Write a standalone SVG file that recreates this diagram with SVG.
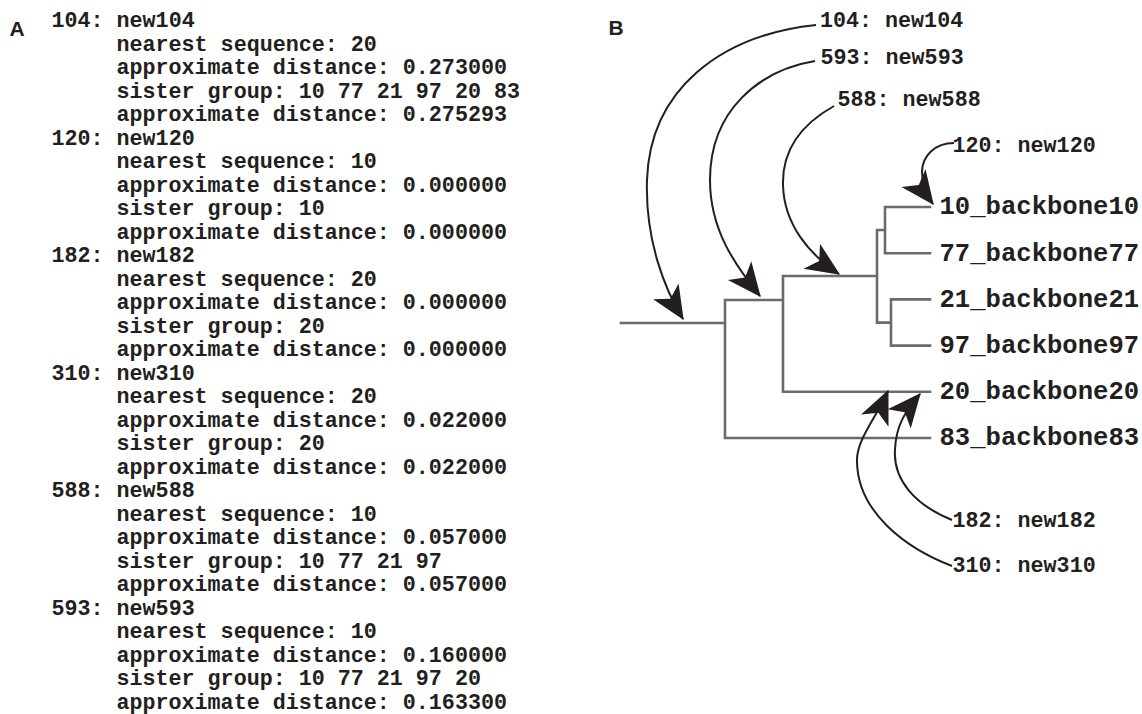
<svg xmlns="http://www.w3.org/2000/svg" width="1142" height="714" viewBox="0 0 1142 714">
<style>
.mono{font-family:"Liberation Mono","Courier New",monospace;font-weight:bold;font-size:21.7px;fill:#231f20}
.leaf{font-family:"Liberation Mono","Courier New",monospace;font-weight:bold;font-size:25.6px;fill:#231f20}
.panel{font-family:"Liberation Sans",Arial,sans-serif;font-weight:bold;font-size:21px;fill:#231f20}
.tree{fill:none;stroke:#6b6b6b;stroke-width:2.6;stroke-linecap:square}
.arr{fill:none;stroke:#231f20;stroke-width:2}
</style>
<defs>
<marker id="ah" markerUnits="userSpaceOnUse" markerWidth="40" markerHeight="40" viewBox="-30 -15 32 30" refX="0" refY="0" orient="auto">
<path d="M1,0 L-26,-12 L-19,0 L-26,12 Z" fill="#231f20"/>
</marker>
</defs>
<rect width="1142" height="714" fill="#ffffff"/>
<text class="panel" x="9.5" y="36">A</text>
<text class="panel" x="608.5" y="35">B</text>
<g id="listing" class="mono">
<g id="entry-104"><text x="51.5" y="27">104: new104</text>
<text x="116.5" y="50.5">nearest sequence: 20</text>
<text x="116.5" y="74">approximate distance: 0.273000</text>
<text x="116.5" y="97.5">sister group: 10 77 21 97 20 83</text>
<text x="116.5" y="121">approximate distance: 0.275293</text></g>
<g id="entry-120"><text x="51.5" y="144.5">120: new120</text>
<text x="116.5" y="168">nearest sequence: 10</text>
<text x="116.5" y="191.5">approximate distance: 0.000000</text>
<text x="116.5" y="215">sister group: 10</text>
<text x="116.5" y="238.5">approximate distance: 0.000000</text></g>
<g id="entry-182"><text x="51.5" y="262">182: new182</text>
<text x="116.5" y="285.5">nearest sequence: 20</text>
<text x="116.5" y="309">approximate distance: 0.000000</text>
<text x="116.5" y="332.5">sister group: 20</text>
<text x="116.5" y="356">approximate distance: 0.000000</text></g>
<g id="entry-310"><text x="51.5" y="379.5">310: new310</text>
<text x="116.5" y="403">nearest sequence: 20</text>
<text x="116.5" y="426.5">approximate distance: 0.022000</text>
<text x="116.5" y="450">sister group: 20</text>
<text x="116.5" y="473.5">approximate distance: 0.022000</text></g>
<g id="entry-588"><text x="51.5" y="497">588: new588</text>
<text x="116.5" y="520.5">nearest sequence: 10</text>
<text x="116.5" y="544">approximate distance: 0.057000</text>
<text x="116.5" y="567.5">sister group: 10 77 21 97</text>
<text x="116.5" y="591">approximate distance: 0.057000</text></g>
<g id="entry-593"><text x="51.5" y="614.5">593: new593</text>
<text x="116.5" y="638">nearest sequence: 10</text>
<text x="116.5" y="661.5">approximate distance: 0.160000</text>
<text x="116.5" y="685">sister group: 10 77 21 97 20</text>
<text x="116.5" y="708.5">approximate distance: 0.163300</text></g>
</g>
<g id="tree">
<path class="tree" d="M621,323 H725 M725,300 V438 M725,300 H783 M725,438 H930 M783,276 V391.8 M783,276 H877 M783,391.8 H930 M877,230 V322.6 M877,230 H885 M877,322.6 H891 M885,207 V253.2 M885,207 H930 M885,253.2 H930 M891,299.4 V345.6 M891,299.4 H930 M891,345.6 H930"/>
</g>
<g id="leaf-10"><text class="leaf" x="939.5" y="214">10_backbone10</text></g>
<g id="leaf-77"><text class="leaf" x="939.5" y="260.5">77_backbone77</text></g>
<g id="leaf-21"><text class="leaf" x="939.5" y="306.5">21_backbone21</text></g>
<g id="leaf-97"><text class="leaf" x="939.5" y="352.8">97_backbone97</text></g>
<g id="leaf-20"><text class="leaf" x="939.5" y="399">20_backbone20</text></g>
<g id="leaf-83"><text class="leaf" x="939.5" y="445.2">83_backbone83</text></g>
<g id="q-104"><text class="mono" x="820" y="27">104: new104</text></g>
<g id="q-593"><text class="mono" x="820.5" y="64.3">593: new593</text></g>
<g id="q-588"><text class="mono" x="837.5" y="105.5">588: new588</text></g>
<g id="q-120"><text class="mono" x="952.5" y="152">120: new120</text></g>
<g id="q-182"><text class="mono" x="952.5" y="526.7">182: new182</text></g>
<g id="q-310"><text class="mono" x="952.5" y="572.3">310: new310</text></g>
<g id="connectors">
<path class="arr" marker-end="url(#ah)" d="M816,25 C720,35 650,90 647,180 C645,240 665,290 683,319"/>
<path class="arr" marker-end="url(#ah)" d="M815,61 C760,70 710,110 710,180 C710,230 735,265 760,296"/>
<path class="arr" marker-end="url(#ah)" d="M834,106 C800,125 782,150 783,185 C784,225 810,255 839,274"/>
<path class="arr" marker-end="url(#ah)" d="M954,143 C935,143 922,156 922,172 C922,186 927,196 933,204"/>
<path class="arr" marker-end="url(#ah)" d="M952,520 C915,505 893,480 895,450 C896,425 905,412 920,394"/>
<path class="arr" marker-end="url(#ah)" d="M952,566 C905,548 858,512 857,462 C856,440 876,418 888,391"/>
</g>
</svg>
